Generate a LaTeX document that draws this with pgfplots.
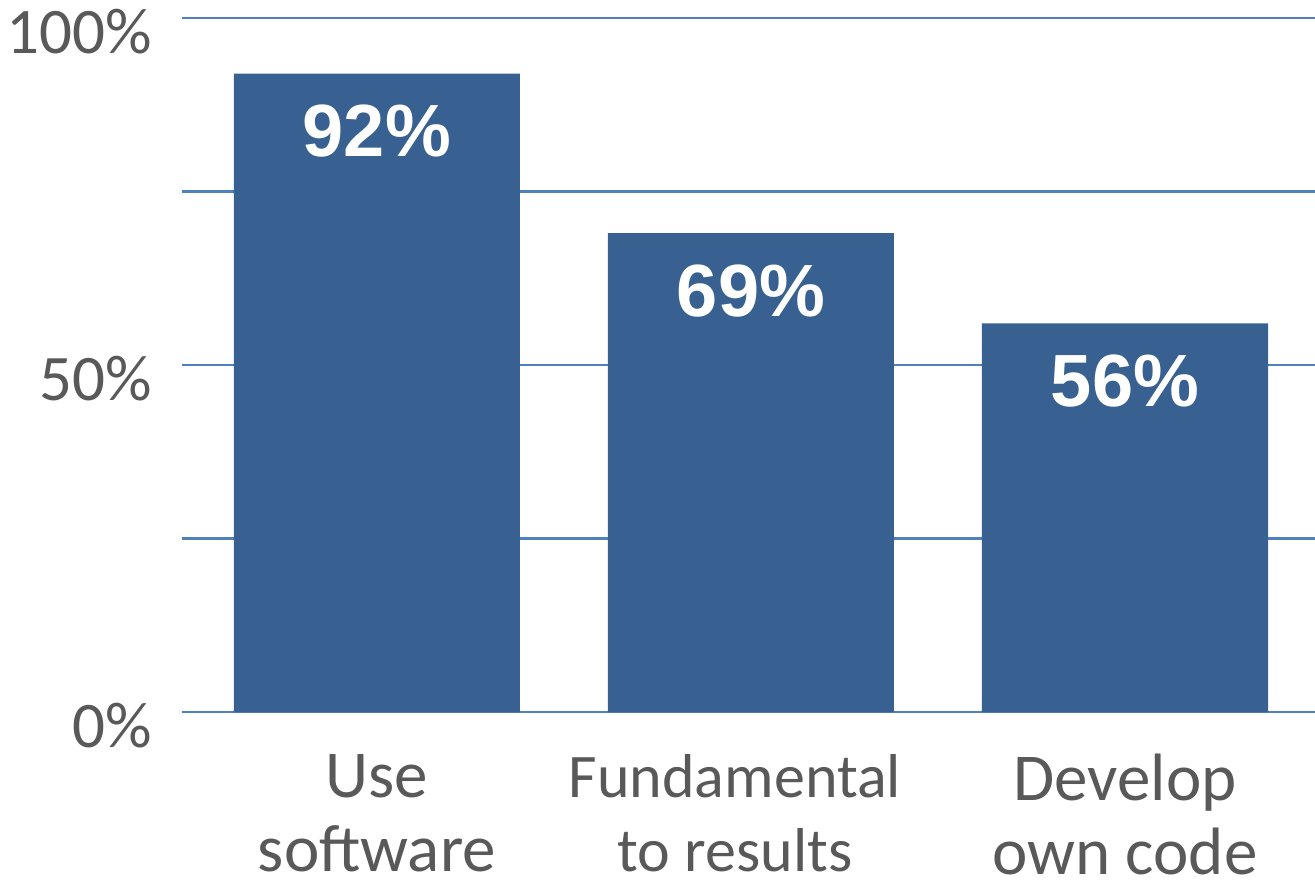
\documentclass[border=0pt]{standalone}
\usepackage{pgfplots}
\pgfplotsset{compat=1.18}
\usepackage{fontspec}
\setmainfont{Carlito}
\newfontfamily\labelfont{Liberation Sans}
\definecolor{barblue}{HTML}{386192}
\definecolor{gridblue}{HTML}{4F81BD}
\definecolor{textgray}{HTML}{595959}
% the middle label is a bit smaller and sits a bit left of its bar
\newcommand{\midlab}[1]{{\fontsize{31pt}{37pt}\selectfont #1}\kern16pt}

\begin{document}
\begin{tikzpicture}
\begin{axis}[
  name=ax,
  scale only axis,
  width=566.5pt, height=347pt,
  ybar, bar width=143pt,
  xmin=-0.521, xmax=2.508,
  ymin=0, ymax=100,
  xtick=data,
  xticklabels={Use\\software, \midlab{Fundamental}\\\midlab{to results}, Develop\\own code},
  ytick={0,25,50,75,100},
  yticklabels={0\%,,50\%,,100\%},
  ymajorgrids,
  major grid style={gridblue, line width=1.2pt},
  axis line style={draw=none},
  major tick length=0pt,
  tick style={draw=none},
  /pgf/number format/assume math mode=true,
  yticklabel style={font=\fontsize{32.5pt}{36pt}\selectfont, text=textgray,
    anchor=base east, inner sep=0pt, xshift=-15pt, yshift=-17.5pt},
  xticklabel style={font=\fontsize{33.5pt}{37pt}\selectfont, text=textgray,
    align=center, anchor=north, inner sep=0pt, yshift=-21pt},
  nodes near coords={\labelfont\bfseries\pgfmathprintnumber{\pgfplotspointmeta}\%},
  nodes near coords style={white, font=\fontsize{37pt}{40pt}\selectfont, anchor=center, yshift=-29pt},
]
\addplot[fill=barblue, draw=none] coordinates {(0,92) (1,69) (2,56)};
\end{axis}
\pgfresetboundingbox
\path ([xshift=-91pt,yshift=9pt]ax.north west) rectangle ([yshift=-83.5pt]ax.south east);
\end{tikzpicture}
\end{document}
